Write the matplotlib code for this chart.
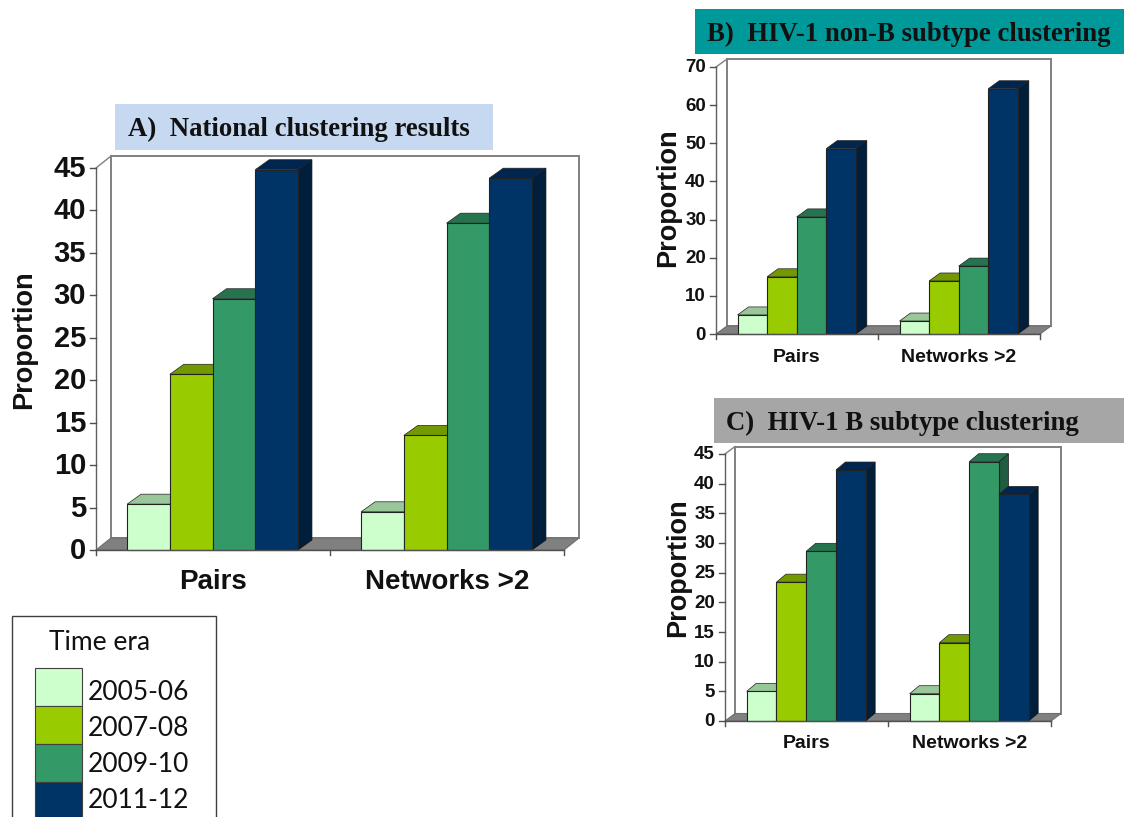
import matplotlib
matplotlib.use("Agg")
import matplotlib.pyplot as plt
from matplotlib.patches import Polygon, Rectangle

W, H = 1124, 817

categories = ["Pairs", "Networks >2"]
eras = ["2005-06", "2007-08", "2009-10", "2011-12"]
colors = ["#CCFFCC", "#99CC00", "#339966", "#003366"]
tops = ["#99C799", "#739900", "#267350", "#002650"]
sides = ["#B0DDB0", "#6B8F00", "#1F5C40", "#001F3D"]

values_a = [[5.4, 20.7, 29.6, 44.8], [4.5, 13.5, 38.5, 43.8]]
values_b = [[5.0, 15.0, 30.7, 48.6], [3.4, 13.9, 17.8, 64.3]]
values_c = [[5.0, 23.4, 28.6, 42.3], [4.6, 13.2, 43.7, 38.2]]

ticks_a = list(range(0, 50, 5))
ticks_b = list(range(0, 80, 10))
ticks_c = list(range(0, 50, 5))

plt.rcParams["font.family"] = ["Liberation Sans", "DejaVu Sans"]
fig = plt.figure(figsize=(W / 100, H / 100), dpi=100)

# full figure overlay for banners and legend, in pixels from top left
bg = fig.add_axes([0, 0, 1, 1])
bg.set_xlim(0, W)
bg.set_ylim(H, 0)
bg.axis("off")


def panel(values, ticks, left, right, y0, ytop, wall, bar, tick_fs, cat_fs, lab_x, lab_y, cat_y):
    ax = fig.add_axes([left / W, 1 - y0 / H, (right - left) / W, (y0 - ytop) / H])
    ax.set_xlim(0, 2)
    ax.set_ylim(0, ticks[-1])
    ax.axis("off")
    ux = 2 / (right - left)
    uy = ticks[-1] / (y0 - ytop)
    wx, wy = wall[0] * ux, wall[1] * uy
    bx, by = bar[0] * ux, bar[1] * uy
    top = ticks[-1]
    grey = "#808080"

    # back wall and floor
    ax.add_patch(Polygon([(wx, wy), (wx, top + wy), (2 + wx, top + wy), (2 + wx, wy)],
                         closed=True, fc="white", ec=grey, lw=1.4, clip_on=False))
    ax.add_patch(Polygon([(0, 0), (wx, wy), (2 + wx, wy), (2, 0)],
                         closed=True, fc=grey, ec="#6e6e6e", lw=0.8, clip_on=False))
    ax.plot([0, wx], [top, top + wy], color=grey, lw=1.0, clip_on=False)
    ax.plot([0, 0], [0, top], color="#606060", lw=1.0, clip_on=False)
    ax.plot([0, 2], [0, 0], color="#505050", lw=1.0, clip_on=False, zorder=6)
    for t in ticks:
        ax.plot([-6 * ux, 0], [t, t], color="#505050", lw=1.0, clip_on=False)
        ax.text(-10 * ux, t - 1 * uy, str(t), ha="right", va="center", fontsize=tick_fs,
                fontweight="bold", color="#111111", clip_on=False)
    for g in range(3):
        ax.plot([g, g], [0, -5 * uy], color="#505050", lw=1.0, clip_on=False)

    bw = 0.1825
    for g, row in enumerate(values):
        for i, v in enumerate(row):
            x0 = g + 0.133 + i * bw
            x1 = x0 + bw
            z = 2 + i
            ax.add_patch(Polygon([(x1, 0), (x1 + bx, by), (x1 + bx, v + by), (x1, v)],
                                 closed=True, fc=sides[i], ec="#111111", lw=0.5, zorder=z,
                                 clip_on=False))
            ax.add_patch(Polygon([(x0, v), (x0 + bx, v + by), (x1 + bx, v + by), (x1, v)],
                                 closed=True, fc=tops[i], ec="#222222", lw=0.5, zorder=z,
                                 clip_on=False))
            ax.add_patch(Rectangle((x0, 0), bw, v, fc=colors[i], ec="#222222", lw=0.8,
                                   zorder=z + 0.5, clip_on=False))
        ax.text(g + 0.5, (y0 - cat_y) * uy, categories[g], ha="center", va="center",
                fontsize=cat_fs, fontweight="bold", color="#111111", clip_on=False)
    bg.text(lab_x, lab_y, "Proportion", rotation=90, ha="center", va="center",
            fontsize=19.5, fontweight="bold", color="#111111")


panel(values_a, ticks_a, 96, 564, 550, 168, (15, 12), (14, 10), 21, 20, 24, 340, 582)
panel(values_b, ticks_b, 716, 1040, 334, 67, (11, 8), (11, 8), 13.5, 14, 668, 198, 357)
panel(values_c, ticks_c, 725, 1051, 721, 454, (10, 7.5), (9.5, 8), 13.5, 14, 678, 568, 744)

# banners
bg.add_patch(Rectangle((115, 104), 378, 46, fc="#C6D9F1", ec="none"))
bg.text(299, 129, "A)  National clustering results", ha="center", va="center",
        family=["Liberation Serif"], fontsize=19.3, fontweight="bold", color="#111111")
bg.add_patch(Rectangle((695, 9), 429, 45, fc="#009999", ec="none"))
bg.text(909, 34, "B)  HIV-1 non-B subtype clustering", ha="center", va="center",
        family=["Liberation Serif"], fontsize=19.3, fontweight="bold", color="#111111")
bg.add_patch(Rectangle((714, 398), 410, 45, fc="#A6A6A6", ec="none"))
bg.text(902, 423, "C)  HIV-1 B subtype clustering", ha="center", va="center",
        family=["Liberation Serif"], fontsize=19.3, fontweight="bold", color="#111111")

# legend box runs off the bottom edge
bg.add_patch(Rectangle((12, 616), 204, 230, fc="white", ec="#404040", lw=1.0))
bg.text(100, 643, "Time era", ha="center", va="center", family=["Lato"], fontsize=19,
        color="#111111")
for i, era in enumerate(eras):
    y = 668 + i * 38
    bg.add_patch(Rectangle((35, y), 47, 38, fc=colors[i], ec="#404040", lw=0.8))
    bg.text(88, 692 + i * 36, era, ha="left", va="center", family=["Lato"], fontsize=19,
            color="#111111")

fig.savefig("out.png", dpi=100)
